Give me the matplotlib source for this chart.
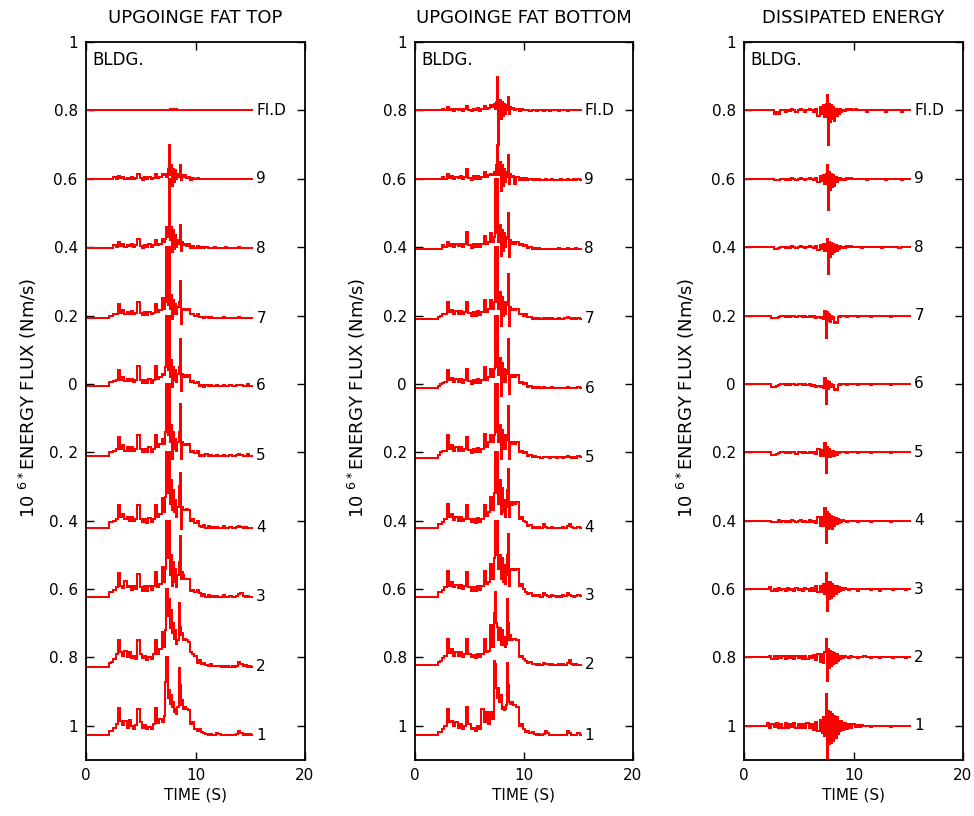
import numpy as np
import matplotlib
matplotlib.use("Agg")
import matplotlib.pyplot as plt

# Sampling grid (s): 0.2 s steps, 0.1 s steps through the strong-motion window
TIME_S = np.concatenate([0.2 * np.arange(36), 7.2 + 0.1 * np.arange(18), 9.0 + 0.2 * np.arange(32)])

FLOOR_LABELS = ["FI.D", "9", "8", "7", "6", "5", "4", "3", "2", "1"]
TRACE_OFFSETS = [0.8, 0.6, 0.4, 0.2, 0.0, -0.2, -0.4, -0.6, -0.8, -1.0]
Y_TICKS = [1.0, 0.8, 0.6, 0.4, 0.2, 0.0, -0.2, -0.4, -0.6, -0.8, -1.0]
Y_TICK_LABELS_TOP = ["1", "0.8", "0.6", "0.4", "0.2", "0", "0. 2", "0. 4", "0. 6", "0. 8", "1"]
Y_TICK_LABELS = ["1", "0.8", "0.6", "0.4", "0.2", "0", "0.2", "0.4", "0.6", "0.8", "1"]
X_TICKS = [0, 10, 20]
PANEL_TITLES = ["UPGOINGE FAT TOP", "UPGOINGE FAT BOTTOM", "DISSIPATED ENERGY"]

# Energy flux per floor, in units of 0.01 x 10^6 Nm/s, relative to each trace offset
# ---- upgoing energy flux at top ----
TOP_FLD = [0, 0, 0, 0, 0, 0, 0, 0, 0, 0, 0, 0, 0, 0, 0, 0, 0, 0, 0, 0,
           0, 0, 0, 0, 0, 0, 0, 0, 0, 0, 0, 0, 0, 0, 0, 0,
           0, 0, 0, 0, 0, 0.3, 0, 0.3, 0, 0.3, 0, 0.3, 0, 0, 0, 0, 0, 0,
           0, 0, 0, 0, 0, 0, 0, 0, 0, 0, 0, 0, 0, 0, 0, 0,
           0, 0, 0, 0, 0, 0, 0, 0, 0, 0, 0, 0, 0, 0, 0, 0]
TOP_F9 = [0, 0, 0, 0, 0, 0, 0, 0, 0, 0, 0, 0, 0, 0.5, 0, 0.8, 0.2, 0.5, -0.2, 0.3,
          0, 0.5, -0.2, 0.3, 1.5, 0.2, -0.3, 0.5, 0, 0.5, -0.2, 0.3, 1.5, 0.2, 0.5, 1.5,
          1.0, 1.5, 0.5, 3.0, 10.0, 1.0, 4.0, -2.0, 3.0, -1.0, 2.5, 0, 1.5, 0.5, 4.0, -0.5, 1.0, 0.5,
          1.0, 0.3, 0.5, -0.3, 0.2, -0.2, 0.2, 0, -0.2, 0, 0, -0.2, 0, 0, -0.2, 0,
          0, -0.2, 0, 0, 0, -0.2, 0, 0, 0, -0.2, 0, 0, 0, 0, 0, 0]
TOP_F8 = [-0.3, -0.3, -0.3, -0.3, -0.3, -0.3, -0.3, -0.3, -0.3, -0.3, -0.3, -0.3, -0.3, 0.5, 0, 1.5, 0.3, 0.8, 0, 0.5,
          0.2, 0.8, 0, 0.5, 2.5, 0.3, -0.2, 0.5, 0, 0.8, 0, 0.5, 2.0, 0.5, 1.0, 2.5,
          1.5, 2.5, 6.0, 3.0, 20.0, 2.0, 6.0, -1.5, 5.0, -0.5, 3.5, 0, 2.0, 1.0, 6.5, -1.0, 1.5, 0.5,
          1.0, 0.3, 0.8, -0.3, 0.2, -0.3, 0.2, -0.3, 0, -0.3, -0.1, -0.3, -0.2, -0.3, -0.1, -0.3,
          -0.2, -0.3, -0.3, -0.1, -0.3, -0.3, -0.2, -0.3, -0.3, -0.1, -0.3, -0.3, -0.2, -0.3, -0.3, -0.3]
TOP_F7 = [-0.8, -0.8, -0.8, -0.8, -0.8, -0.8, -0.8, -0.8, -0.8, -0.8, -0.8, 0, 0, 0.3, 0.5, 3.3, 0.7, 1.5, 0.5, 1.0,
          0.5, 1.2, 0.3, 0.8, 4.0, 0.8, 0.2, 1.0, 0.2, 1.0, 0.3, 0.8, 3.5, 1.0, 1.5, 5.0,
          2.0, 4.0, 20.0, 3.0, 20.0, 2.0, 6.0, -1.0, 4.5, 0.5, 3.5, 0.5, 2.5, 4.0, 10.0, -2.5, 2.0, 1.5,
          2.0, 1.5, 2.0, 0.3, 0.5, 0, 0.5, -0.5, -0.3, -0.8, -0.5, -0.8, -0.5, -0.8, -0.6, -0.8,
          -0.6, -0.8, -0.5, -0.8, -0.8, -0.6, -0.8, -0.8, -0.6, -0.4, -0.8, -0.8, -0.6, -0.8, -0.6, -0.8]
TOP_F6 = [-0.5, -0.5, -0.5, -0.5, -0.5, -0.5, -0.5, -0.5, -0.5, -0.5, -0.5, 0.5, 0.5, 0.8, 1.0, 4.2, 1.0, 2.0, 0.8, 1.5,
          0.8, 1.5, 0.5, 1.0, 5.3, 1.0, 0.3, 1.2, 0.3, 1.5, 0.3, 1.0, 5.2, 1.5, 2.0, 3.0,
          2.5, 5.0, 20.0, 4.0, 20.0, 2.0, 7.0, -1.0, 5.0, 1.0, 4.0, 0.5, 3.0, 5.0, 13.0, -2.0, 3.0, 2.0,
          2.5, 2.0, 2.5, 0.5, 0.8, 0.2, 0.5, -0.5, -0.2, -0.8, -0.3, -0.5, -0.3, -0.6, -0.5, -0.3,
          -0.5, -0.5, -0.3, -0.5, -0.5, -0.3, -0.5, -0.5, -0.3, -0.2, -0.3, -0.5, -0.5, 0, -0.5, -0.5]
TOP_F5 = [-1.0, -1.0, -1.0, -1.0, -1.0, -1.0, -1.0, -1.0, -1.0, -1.0, -1.0, 0, 0, 0.5, 1.0, 4.5, 1.0, 2.0, 0.5, 1.5,
          0.5, 1.5, 0.5, 1.0, 5.0, 1.0, 0, 1.0, 0, 1.5, 0, 1.0, 5.0, 1.5, 2.5, 4.0,
          2.5, 6.0, 20.0, 5.0, 20.0, 3.0, 8.0, -2.0, 6.0, 1.0, 4.0, 0.5, 3.0, 6.0, 14.0, -2.0, 3.0, 2.0,
          2.5, 2.0, 2.5, 0, 0.5, -0.3, 0.3, -1.0, -0.8, -1.2, -0.6, -1.0, -0.8, -1.0, -1.2, -0.8,
          -1.0, -1.0, -0.8, -1.0, -1.0, -0.8, -1.0, -1.0, -0.8, -0.5, -0.8, -1.0, -1.0, -0.5, -1.0, -1.0]
TOP_F4 = [-2.0, -2.0, -2.0, -2.0, -2.0, -2.0, -2.0, -2.0, -2.0, -2.0, -2.0, -0.5, -0.5, 0, 0.5, 4.7, 1.0, 2.0, 0.5, 1.0,
          0, 1.0, 0, 0.5, 4.5, 0.5, -0.5, 0.5, -0.8, 0.8, -0.5, 0.5, 4.5, 1.0, 2.0, 6.5,
          2.5, 7.0, 20.0, 8.0, 20.0, 5.0, 12.0, 3.0, 9.0, 2.5, 6.0, 1.0, 4.0, 10.0, 14.0, -2.5, 4.0, 3.0,
          3.0, 3.5, 3.0, 0, 0.5, -0.8, -0.2, -1.5, -1.8, -1.2, -2.0, -1.6, -2.0, -1.8, -2.0, -1.8,
          -2.0, -2.0, -1.7, -2.0, -2.0, -1.8, -2.0, -2.0, -1.8, -1.5, -1.8, -2.0, -1.9, -2.0, -2.0, -2.0]
TOP_F3 = [-2.2, -2.2, -2.2, -2.2, -2.2, -2.2, -2.2, -2.2, -2.2, -2.2, -2.2, -1.0, -1.0, -0.2, 0.5, 4.8, 1.0, 0.3, 2.5, 0.5,
          1.0, -0.2, 0.8, 0, 4.5, 0.5, -0.5, 0.8, -0.5, 1.0, -0.3, 0.8, 5.0, 0.5, 1.5, 6.5,
          2.0, 6.0, 20.0, 9.0, 20.0, 4.0, 10.0, 1.0, 8.0, 2.0, 6.0, 0.5, 4.0, 8.0, 15.5, 3.0, 5.0, 4.0,
          3.0, 3.0, 3.0, -0.5, -0.3, -0.8, -0.3, -1.2, -2.0, -1.5, -2.2, -1.8, -2.2, -2.0, -2.2, -2.0,
          -2.2, -2.2, -1.8, -2.2, -2.2, -2.0, -2.2, -2.2, -2.0, -1.5, -1.2, -2.0, -2.2, -2.0, -2.2, -2.2]
TOP_F2 = [-2.7, -2.7, -2.7, -2.7, -2.7, -2.7, -2.7, -2.7, -2.7, -2.7, -2.7, -1.5, -1.2, -0.5, 1.0, 5.2, 1.5, 0.5, 1.8, 0,
          1.5, -0.3, 0.5, -0.5, 5.0, 1.0, -0.3, 0.5, -0.8, 0, -0.5, 1.0, 5.0, 1.0, 2.5, 7.3,
          3.0, 8.0, 20.0, 12.0, 17.0, 8.5, 14.0, 7.0, 10.0, 5.5, 8.0, 4.0, 5.0, 16.0, 9.0, 6.5, 7.0, 5.0,
          5.5, 5.0, 4.5, 1.5, 1.0, 0.5, -1.5, -0.8, -1.8, -1.5, -2.2, -2.5, -2.0, -2.5, -2.4, -2.6,
          -2.4, -2.7, -2.6, -2.7, -2.5, -2.7, -2.6, -2.7, -2.4, -1.3, -2.0, -2.5, -2.2, -2.7, -2.4, -2.7]
TOP_F1 = [-2.8, -2.8, -2.8, -2.8, -2.8, -2.8, -2.8, -2.8, -2.8, -2.8, -2.8, -1.5, -1.5, -0.5, 0.5, 5.2, 1.5, 0.3, 1.5, -0.5,
          1.8, 0, -0.8, 0.3, 5.0, 1.0, -0.5, 0.2, -1.0, -0.3, -0.8, 0.5, 5.2, 0.8, 2.0, 1.0,
          3.0, 12.8, 20.0, 8.0, 10.5, 6.5, 9.0, 5.5, 7.0, 4.0, 5.0, 3.5, 5.5, 17.0, 12.0, 6.0, 7.5, 5.0,
          5.5, 5.0, 4.5, 0.5, 1.0, -1.0, -1.5, -0.8, -1.8, -2.2, -2.5, -2.8, -2.4, -2.8, -2.6, -2.0,
          -2.3, -2.8, -2.8, -2.6, -2.8, -2.8, -2.6, -2.8, -2.5, -1.4, -2.0, -2.6, -2.3, -2.8, -2.5, -2.8]

# ---- upgoing energy flux at bottom ----
BOT_FLD = [0, 0, 0, 0, 0, 0, 0, 0, 0, 0, 0, 0, 0, 0.5, 0, 1.0, 0.2, 0.5, -0.3, 0.3,
           0, 0.5, -0.2, 0.4, 1.3, 0.2, -0.3, 0.5, 0, 0.6, -0.2, 0.4, 1.2, 0.3, 0.8, 1.5,
           1.0, 2.0, 0.5, 2.5, 9.7, -10.0, 3.0, -2.5, 2.5, -1.5, 2.0, -1.0, 1.5, 0, 3.8, -1.0, 1.0, 0.3,
           0.8, 0, 0.5, -0.2, 0.3, 0, 0.2, 0, -0.2, 0, 0, -0.2, 0, 0, -0.2, 0,
           0, -0.2, 0, 0, 0, -0.2, 0, 0, 0, -0.2, 0, 0, 0, 0, 0, 0]
BOT_F9 = [0, 0, 0, 0, 0, 0, 0, 0, 0, 0, 0, 0, 0, 0.5, 0, 1.5, 0.3, 0.8, -0.2, 0.5,
          0.2, 0.8, -0.2, 0.5, 3.0, 0.3, -0.3, 0.8, 0, 0.8, -0.2, 0.5, 2.0, 0.5, 1.0, 1.5,
          1.0, 2.0, 1.0, 4.0, 10.0, 1.0, 5.0, -3.5, 4.0, -2.0, 3.0, -1.0, 2.0, 0.5, 7.0, -1.5, 1.5, 0.5,
          0.8, -1.5, 0.5, -0.3, 0.3, -0.3, 0.2, -0.5, -0.2, -0.3, -0.2, -0.5, -0.2, -0.3, -0.5, -0.2,
          -0.3, -0.5, -0.2, -0.3, -0.5, -0.3, -0.2, -0.5, -0.3, -0.2, -0.5, -0.3, -0.2, -0.3, -0.2, -0.3]
BOT_F8 = [-0.5, -0.5, -0.5, -0.5, -0.5, -0.5, -0.5, -0.5, -0.5, -0.5, -0.5, -0.5, -0.5, 0.5, 0, 1.5, 0.3, 1.0, 0, 0.8,
          0.2, 1.0, 0, 0.8, 4.4, 0.5, -0.3, 0.8, 0, 1.0, 0, 0.8, 3.4, 0.8, 1.5, 4.0,
          1.5, 3.0, 20.0, 4.0, 20.0, 1.5, 6.5, -2.5, 5.0, -1.0, 4.0, 0, 2.5, 3.0, 10.0, -3.0, 2.0, 1.0,
          1.5, 1.0, 1.5, 0.5, 0.8, 0.2, 0.5, -0.3, 0, -0.5, -0.3, -0.5, -0.3, -0.5, -0.6, -0.4,
          -0.5, -0.6, -0.4, -0.5, -0.5, -0.3, -0.5, -0.6, -0.4, -0.3, -0.5, -0.5, -0.4, -0.2, -0.5, -0.5]
BOT_F7 = [-1.0, -1.0, -1.0, -1.0, -1.0, -1.0, -1.0, -1.0, -1.0, -1.0, -1.0, -0.5, 0, 0.3, 0.5, 4.0, 1.0, 1.5, 0.5, 1.2,
          0.5, 1.3, 0.3, 1.0, 4.0, 0.8, 0, 1.0, 0, 1.2, 0.2, 1.0, 4.4, 1.0, 2.0, 4.5,
          2.0, 4.0, 20.0, 4.0, 20.0, 2.0, 7.0, -3.0, 5.5, 0, 4.0, 0.5, 3.0, 4.0, 12.0, -3.0, 2.5, 1.5,
          2.0, 1.5, 2.0, 0.3, 0.5, 0, 0.3, -0.5, -0.3, -1.0, -0.6, -1.0, -0.7, -1.0, -0.8, -1.0,
          -0.8, -1.0, -0.7, -1.0, -1.0, -0.8, -1.0, -1.0, -0.8, -0.5, -0.8, -1.0, -0.8, -1.0, -0.6, -1.0]
BOT_F6 = [-1.3, -1.3, -1.3, -1.3, -1.3, -1.3, -1.3, -1.3, -1.3, -1.3, -1.3, -0.5, 0, 0.3, 0.5, 4.0, 1.0, 1.8, 0.5, 1.3,
          0.5, 1.5, 0.3, 1.0, 4.4, 0.8, 0, 1.0, 0.2, 1.3, 0.3, 1.0, 5.0, 1.2, 2.0, 4.5,
          2.0, 4.5, 20.0, 5.0, 20.0, 2.5, 7.5, -3.5, 6.0, 0.5, 4.5, 0.5, 3.0, 4.0, 13.0, -3.0, 2.5, 2.0,
          2.5, 2.0, 2.5, 0.3, 0.5, 0, 0.3, -0.8, -0.5, -1.3, -0.8, -1.3, -1.0, -1.3, -1.0, -1.3,
          -1.1, -1.3, -1.0, -1.3, -1.3, -1.1, -1.3, -1.3, -1.1, -0.8, -1.1, -1.3, -1.1, -1.3, -0.8, -1.3]
BOT_F5 = [-1.8, -1.8, -1.8, -1.8, -1.8, -1.8, -1.8, -1.8, -1.8, -1.8, -1.8, -0.8, 0, 0.3, 0.5, 5.0, 1.0, 2.0, 0.5, 1.5,
          0.5, 1.5, 0.3, 1.0, 4.4, 0.8, -0.2, 1.0, 0, 1.3, 0.2, 1.0, 5.3, 1.5, 3.0, 5.0,
          3.0, 5.0, 20.0, 6.0, 20.0, 3.0, 8.0, -2.0, 6.5, 1.0, 5.0, 1.0, 3.5, 5.0, 13.5, -2.0, 3.0, 2.5,
          3.0, 2.5, 3.0, 0, 0.5, -0.3, 0, -1.0, -0.8, -1.5, -1.2, -1.5, -1.3, -1.6, -1.3, -1.5,
          -1.5, -1.7, -1.4, -1.5, -1.7, -1.5, -1.5, -1.7, -1.4, -1.0, -1.4, -1.6, -1.5, -1.6, -1.2, -1.5]
BOT_F4 = [-2.2, -2.2, -2.2, -2.2, -2.2, -2.2, -2.2, -2.2, -2.2, -2.2, -2.2, -1.0, -1.0, -0.3, 0.5, 5.0, 1.0, 2.0, 0.3, 1.0,
          0, 1.0, -0.2, 0.5, 4.5, 0.5, -0.5, 0.5, -0.6, 0.8, -0.4, 0.5, 4.7, 1.5, 2.5, 7.0,
          3.0, 8.0, 20.0, 8.0, 20.0, 5.0, 12.0, 2.0, 9.5, 2.5, 6.0, 1.0, 4.0, 9.0, 15.0, 1.0, 5.5, 4.5,
          5.5, 5.0, 5.5, 0.6, 1.0, 0, -0.5, -1.5, -1.2, -2.0, -1.8, -2.0, -1.8, -2.0, -1.0, -1.8,
          -2.0, -2.0, -1.8, -2.0, -2.2, -2.0, -2.0, -1.8, -2.0, -1.5, -1.0, -1.8, -2.0, -2.0, -1.8, -2.0]
BOT_F3 = [-2.2, -2.2, -2.2, -2.2, -2.2, -2.2, -2.2, -2.2, -2.2, -2.2, -2.2, -1.0, -1.0, -0.3, 0.5, 5.3, 1.0, 2.2, 0.5, 1.3,
          0.3, 1.2, 0, 0.8, 4.9, 0.5, -0.5, 0.5, -0.5, 1.0, -0.3, 0.8, 5.3, 1.5, 2.0, 7.3,
          3.0, 9.0, 20.0, 10.0, 20.0, 6.0, 10.0, 3.0, 9.0, 2.0, 7.0, 1.5, 4.0, 10.0, 16.0, 1.0, 6.0, 5.5,
          5.8, 5.5, 5.8, 1.0, 1.5, 0, -0.8, -1.5, -1.2, -2.0, -1.6, -2.0, -1.8, -2.2, -1.2, -1.8,
          -2.0, -2.2, -1.8, -2.0, -2.2, -2.0, -2.2, -1.8, -2.0, -1.3, -1.8, -2.0, -2.2, -2.0, -1.8, -2.0]
BOT_F2 = [-2.2, -2.2, -2.2, -2.2, -2.2, -2.2, -2.2, -2.2, -2.2, -2.2, -2.2, -1.2, -1.0, -0.3, 0.5, 5.5, 1.2, 2.5, 0.5, 1.5,
          0.5, 1.5, 0.2, 1.0, 5.5, 1.0, 0, 0.8, -0.2, 1.0, 0, 1.0, 5.5, 1.5, 2.0, 9.4,
          3.0, 13.0, 19.0, 10.0, 9.0, 5.0, 8.5, 3.5, 8.0, 3.5, 6.0, 3.0, 4.0, 17.0, 10.0, 5.0, 6.5, 5.0,
          5.5, 5.5, 5.0, 0, 0.5, -0.5, -1.0, -1.5, -1.2, -2.0, -1.8, -2.2, -1.8, -2.2, -1.5, -1.8,
          -2.0, -2.2, -2.0, -2.2, -2.2, -2.0, -2.2, -2.0, -2.2, -1.5, -0.8, -1.8, -2.2, -2.0, -2.2, -2.2]
BOT_F1 = [-2.8, -2.8, -2.8, -2.8, -2.8, -2.8, -2.8, -2.8, -2.8, -2.8, -2.8, -1.8, -1.8, -0.8, 0, 5.0, 1.0, 1.5, 0, 1.0,
          -0.5, 0.5, -1.0, 0, 5.4, 0.5, -1.0, -0.5, -1.4, 0, -1.0, 5.0, 1.0, 4.0, 0.5, 4.0,
          2.0, 19.0, 18.0, 11.0, 8.0, 11.0, 7.0, 9.0, 5.0, 5.5, 4.5, 5.0, 6.0, 18.5, 12.0, 7.0, 6.5, 7.0,
          6.0, 6.0, 5.5, 0, 0.5, -1.0, -1.8, -1.5, -2.0, -1.8, -2.5, -2.8, -2.5, -2.8, -2.5, -1.5,
          -2.0, -2.8, -2.6, -2.8, -2.8, -2.6, -2.8, -2.8, -2.6, -1.5, -2.2, -2.8, -2.6, -2.8, -2.2, -2.8]

# ---- dissipated energy ----
DIS_FLD = [0, 0, 0, 0, 0, 0, 0, 0, 0, 0, 0, 0, 0, 0, -1.0, -0.5, -1.0, 0, 0, -0.5,
           0, -0.3, 0.3, 0, -0.5, 0, 0.5, 0, -0.5, 0, 0.3, 0, -0.5, 0.5, -1.5, 1.0,
           -1.0, 1.5, -2.0, 2.0, 4.4, -10.0, 2.0, -3.4, 1.5, -2.5, 1.0, -3.0, 0.5, -1.5, 0.5, -1.0, 0.3, -0.5,
           0, -0.3, 0.5, 0, 0.5, 0, 0.5, 0, 0, 0, 0, -0.5, 0, 0, 0, 0,
           0, 0, 0, 0, -0.5, 0, 0, 0, 0, 0, 0, -0.5, 0, 0, 0, 0]
DIS_F9 = [0, 0, 0, 0, 0, 0, 0, 0, 0, 0, 0, 0, 0, 0, -0.5, -0.5, -0.3, 0, 0, -0.3,
          0, -0.3, 0.2, 0, -0.3, 0, 0.3, 0, -0.3, 0, 0.2, 0, -0.3, 0.3, -1.0, 0.8,
          -0.8, 1.0, -1.5, 1.5, 4.0, -9.0, 2.0, -3.4, 1.5, -2.5, 1.0, -2.0, 0.5, -1.0, 0.3, -0.5, 0.2, -0.3,
          0, -0.3, 0.3, 0, 0.3, 0, 0, 0, 0, 0, 0, -0.3, 0, 0, 0, 0,
          0, 0, 0, 0, -0.3, 0, 0, 0, 0, 0, 0, -0.3, 0, 0, 0, 0]
DIS_F8 = [0, 0, 0, 0, 0, 0, 0, 0, 0, 0, 0, 0, 0, 0, -0.5, -0.5, -0.3, 0, 0, -0.3,
          0, -0.3, 0.2, 0, -0.3, 0, 0.3, 0, -0.3, 0, 0.2, 0, -0.3, 0.3, -0.8, 0.5,
          -0.5, 0.8, -1.0, 1.0, 2.5, -7.8, 1.5, -3.0, 1.2, -2.0, 0.8, -1.5, 0.5, -1.0, 0.3, -0.5, 0.2, -0.3,
          0, -0.3, 0.3, 0, 0.3, 0, 0, 0, 0, -0.3, 0, 0, 0, 0, 0, 0,
          0, 0, -0.3, 0, 0, 0, 0, 0, 0, 0, -0.3, 0, 0, 0, 0, 0]
DIS_F7 = [0, 0, 0, 0, 0, 0, 0, 0, 0, 0, 0, 0, 0, -0.8, -0.8, -0.8, -0.5, 0, 0, -0.3,
          0, -0.5, 0, 0, -0.3, 0, 0, -0.5, 0, -0.3, 0, -0.5, 0, -0.8, -0.5, -0.8,
          -0.5, -1.0, 1.2, -6.5, 1.0, -1.5, 0.5, -1.8, 0, -1.0, -0.5, -2.2, -2.0, -2.2, -0.5, 0, -0.3, 0,
          0, 0, -0.3, 0, 0, 0, 0, -0.5, 0, 0, 0, 0, 0, -0.5, 0, 0,
          0, 0, 0, 0, 0, 0, -0.5, 0, 0, 0, 0, 0, 0, 0, 0, 0]
DIS_F6 = [0, 0, 0, 0, 0, 0, 0, 0, 0, 0, 0, 0, 0, -0.8, -0.8, -0.5, -0.3, 0, 0, -0.3,
          0, -0.3, 0, 0, -0.3, 0, 0, -0.3, 0, -0.3, 0, -0.5, -0.3, -0.8, -0.5, -1.0,
          -0.5, -1.2, 1.6, -6.0, 0.8, -1.5, 0.5, -1.0, 0, -0.8, -0.3, -1.8, -1.5, -1.8, -0.3, 0, -0.3, 0,
          0, 0, -0.3, 0, 0, 0, 0, -0.3, 0, 0, 0, 0, 0, -0.3, 0, 0,
          0, 0, 0, 0, 0, 0, -0.3, 0, 0, 0, 0, 0, 0, 0, 0, 0]
DIS_F5 = [0, 0, 0, 0, 0, 0, 0, 0, 0, 0, 0, 0, 0, -0.7, -0.7, -0.5, -0.3, 0, 0, -0.3,
          0, -0.3, 0, 0, -0.5, 0, 0, -0.3, 0, -0.3, 0, -0.3, 0, -0.5, 1.0, -1.2,
          0.8, -1.0, 2.8, -6.0, 1.5, -1.5, 1.0, -1.5, 0.5, -1.0, 0.3, -1.2, 0, -0.8, 0, -0.3, 0, 0,
          0, 0, -0.3, 0, 0, 0, 0, -0.3, 0, 0, 0, 0, 0, -0.3, 0, 0,
          0, 0, 0, 0, 0, 0, -0.3, 0, 0, 0, 0, 0, 0, 0, 0, 0]
DIS_F4 = [0, 0, 0, 0, 0, 0, 0, 0, 0, 0, 0, 0, 0, -0.3, -0.5, -0.3, 0.3, -0.3, 0, -0.5,
          0, -0.3, 0.3, 0, -0.5, 0, 0.3, -0.3, 0, -0.5, 0.3, -0.3, 0, -0.8, 1.0, -1.5,
          1.0, -1.5, 3.7, -6.6, 2.5, -2.5, 2.0, -2.0, 1.5, -2.5, 1.0, -1.5, 0.8, -1.0, 0.5, -0.8, 0.3, -0.3,
          0.3, 0, -0.3, 0, 0, 0, 0, -0.3, 0, 0, 0, 0, 0, -0.3, 0, 0,
          0, 0, 0, 0, 0, 0, -0.3, 0, 0, 0, 0, 0, 0, 0, 0, 0]
DIS_F3 = [0, 0, 0, 0, 0, 0, 0, 0, 0, 0, 0, 0, 0.5, -0.5, 0, -0.5, 0.3, -0.3, 0, -0.5,
          0.3, -0.3, 0, -0.5, 0.3, -0.3, 0, -0.5, 0.3, 0, -0.5, 0.3, -0.5, 0.8, -1.0, 1.0,
          -1.0, 1.5, -1.5, 4.7, -6.5, 2.2, -3.0, 2.0, -2.5, 1.5, -2.0, 1.0, -1.5, 0.8, -1.0, 0.5, -0.5, 0.3,
          -0.3, 0.3, 0, -0.3, 0, 0, 0, -0.5, 0, 0, 0, 0, 0, -0.3, 0, 0,
          0, -0.5, 0, 0, 0, 0, 0, -0.3, 0, 0, 0, 0, 0, -0.3, 0, 0]
DIS_F2 = [0, 0, 0, 0, 0, 0, 0, 0, 0, 0, 0, 0, 0.5, -0.5, 0.3, -0.5, 0.3, -0.3, 0.5, -0.5,
          0.3, -0.3, 0.5, -0.5, 0.3, -0.3, 0.5, -0.5, 0.3, -0.5, 0.5, -0.3, 0.8, -0.8, 1.0, -1.2,
          1.0, -1.5, 1.5, 5.5, -7.0, 2.6, -3.2, 2.0, -2.5, 1.5, -2.0, 1.2, -1.5, 1.0, -1.0, 0.5, -0.5, 0.3,
          -0.3, 0.5, 0, -0.3, 0.3, 0, 0, -0.3, 0, 0, 0.3, 0, 0, -0.3, 0, 0,
          0, -0.3, 0, 0, 0, 0, 0, -0.3, 0, 0, 0, 0, 0, -0.3, 0, 0]
DIS_F1 = [0, 0, 0, 0, 0, 0, 0, 0, 0, 0, 0, 0.7, -0.7, 0.6, -0.4, 0.7, -0.7, 0.4, -0.6, 0.7,
          -0.7, 0.6, -0.4, 0.7, -0.7, 0.4, -0.7, 0.6, -0.6, 0.7, -0.7, 0.6, -1.2, 1.2, -1.6, 1.6,
          -2.0, 2.5, -3.0, 9.2, -10.5, 4.4, -5.3, 4.0, -5.0, 3.5, -4.5, 3.0, -3.5, 2.5, -2.5, 1.5, -1.5, 1.5,
          -1.2, 0.8, -0.8, 0.6, -0.6, 0.4, -0.4, 0.3, -0.3, 0.3, 0, 0, 0, -0.3, 0, 0,
          0, 0, 0, 0, 0, 0, -0.3, 0, 0, 0, 0, 0, 0, 0, 0, 0]

PANEL_SERIES = [
    [TOP_FLD, TOP_F9, TOP_F8, TOP_F7, TOP_F6, TOP_F5, TOP_F4, TOP_F3, TOP_F2, TOP_F1],
    [BOT_FLD, BOT_F9, BOT_F8, BOT_F7, BOT_F6, BOT_F5, BOT_F4, BOT_F3, BOT_F2, BOT_F1],
    [DIS_FLD, DIS_F9, DIS_F8, DIS_F7, DIS_F6, DIS_F5, DIS_F4, DIS_F3, DIS_F2, DIS_F1],
]
PANEL_YTICK_LABELS = [Y_TICK_LABELS_TOP, Y_TICK_LABELS, Y_TICK_LABELS]

for group in PANEL_SERIES:
    for s in group:
        if len(s) != len(TIME_S):
            raise ValueError(f"series length {len(s)} != {len(TIME_S)}")

plt.rcParams["font.family"] = ["DejaVu Sans"]
W, H = 974, 816
fig = plt.figure(figsize=(W / 100, H / 100), dpi=100)
fig.patch.set_facecolor("white")

# axes boxes in pixels: left, right
boxes = [(86, 305), (415, 633), (744, 963)]
top_px, bot_px = 42, 760

for k, (l, r) in enumerate(boxes):
    ax = fig.add_axes([l / W, (H - bot_px) / H, (r - l) / W, (bot_px - top_px) / H])
    for off, lab, vals in zip(TRACE_OFFSETS, FLOOR_LABELS, PANEL_SERIES[k]):
        y = off + np.asarray(vals) / 100.0
        ax.plot(TIME_S, y, color="#ff0000", lw=1.45, drawstyle="steps-mid", solid_joinstyle="miter")
        ax.text(15.55, y[-1], lab, fontsize=11, ha="left", va="center", color="black")
    ax.set_xlim(0, 20)
    ax.set_ylim(-1.1, 1.0)
    ax.set_xticks(X_TICKS)
    ax.set_xticklabels([str(v) for v in X_TICKS])
    ax.set_yticks(Y_TICKS)
    ax.set_yticklabels(PANEL_YTICK_LABELS[k])
    ax.tick_params(direction="in", length=6, width=1, top=True, right=True,
                   labelsize=11, pad=6)
    for sp in ax.spines.values():
        sp.set_linewidth(1.3)
    ax.text(0.03, 0.988, "BLDG.", transform=ax.transAxes, fontsize=12, ha="left", va="top")
    ax.set_ylabel(r"10 $^{6*}$ENERGY FLUX (Nm/s)", fontsize=13)
    ax.yaxis.set_label_coords(-0.215, 0.505)
    ax.set_xlabel("TIME (S)", fontsize=11, labelpad=3)
    fig.text((l + r) / 2 / W, 1 - 18 / H, PANEL_TITLES[k], fontsize=13, ha="center", va="center")

fig.savefig("out.png", dpi=100, facecolor="white")
